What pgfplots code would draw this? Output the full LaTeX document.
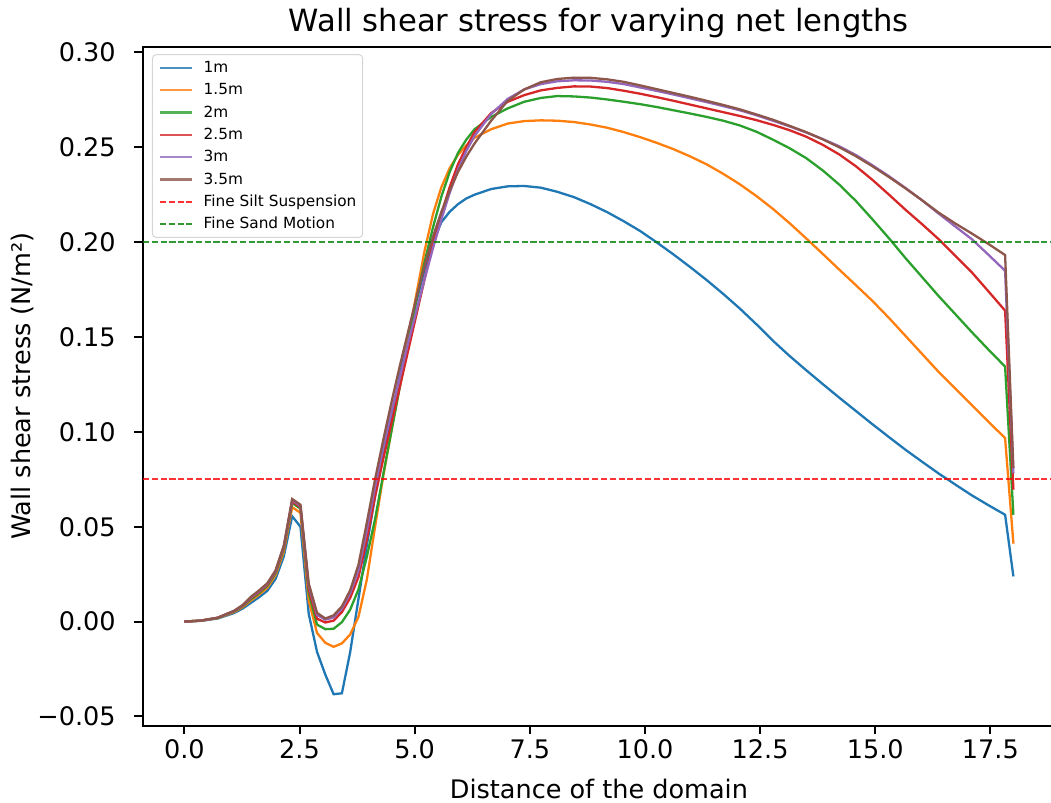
\documentclass[border=0pt]{standalone}
\usepackage{fontspec}
\setmainfont{DejaVu Sans}
\usepackage{pgfplots}
\usepackage{pgfplotstable}
\pgfplotsset{compat=1.18}
\definecolor{c0}{HTML}{1F77B4}
\definecolor{c1}{HTML}{FF7F0E}
\definecolor{c2}{HTML}{2CA02C}
\definecolor{c3}{HTML}{D62728}
\definecolor{c4}{HTML}{9467BD}
\definecolor{c5}{HTML}{8C564B}
\definecolor{hred}{HTML}{FF0000}
\definecolor{hgreen}{HTML}{008000}

\pgfplotstableread{
x      a        b        c        d        e        f
0.00   0.0000   0.0000   0.0000   0.0000   0.0000   0.0000
0.36   0.0004   0.0005   0.0005   0.0005   0.0005   0.0005
0.72   0.0016   0.0018   0.0019   0.0020   0.0020   0.0020
1.08   0.0045   0.0050   0.0053   0.0055   0.0056   0.0057
1.26   0.0068   0.0075   0.0079   0.0082   0.0084   0.0086
1.44   0.0098   0.0110   0.0117   0.0122   0.0126   0.0130
1.62   0.0128   0.0142   0.0150   0.0156   0.0160   0.0164
1.80   0.0162   0.0178   0.0188   0.0194   0.0198   0.0202
1.98   0.0225   0.0245   0.0255   0.0262   0.0266   0.0270
2.16   0.0345   0.0370   0.0385   0.0393   0.0398   0.0402
2.34   0.0555   0.0603   0.0625   0.0633   0.0640   0.0646
2.52   0.0500   0.0573   0.0595   0.0603   0.0610   0.0616
2.70   0.0040   0.0110   0.0150   0.0170   0.0190   0.0200
2.88  -0.0160  -0.0060  -0.0016   0.0015   0.0035   0.0046
3.06  -0.0280  -0.0112  -0.0040  -0.0005   0.0010   0.0016
3.24  -0.0383  -0.0133  -0.0038   0.0005   0.0022   0.0033
3.42  -0.0378  -0.0115  -0.0003   0.0050   0.0068   0.0080
3.60  -0.0160  -0.0068   0.0063   0.0125   0.0150   0.0165
3.78   0.0120   0.0025   0.0170   0.0235   0.0270   0.0300
3.96   0.0400   0.0220   0.0340   0.0430   0.0480   0.0520
4.14   0.0660   0.0500   0.0540   0.0660   0.0710   0.0750
4.32   0.0880   0.0770   0.0780   0.0860   0.0920   0.0960
4.50   0.1090   0.1010   0.1010   0.1050   0.1110   0.1160
4.68   0.1300   0.1250   0.1240   0.1240   0.1290   0.1350
4.86   0.1500   0.1490   0.1470   0.1430   0.1470   0.1530
5.04   0.1690   0.1730   0.1700   0.1620   0.1640   0.1710
5.22   0.1860   0.1960   0.1900   0.1810   0.1810   0.1880
5.40   0.2000   0.2150   0.2080   0.1990   0.1970   0.2030
5.58   0.2105   0.2290   0.2240   0.2150   0.2120   0.2160
5.76   0.2160   0.2390   0.2370   0.2290   0.2260   0.2270
5.94   0.2200   0.2460   0.2470   0.2410   0.2380   0.2370
6.12   0.2230   0.2510   0.2540   0.2500   0.2480   0.2450
6.30   0.2250   0.2550   0.2595   0.2580   0.2560   0.2520
6.66   0.2280   0.2595   0.2660   0.2680   0.2675   0.2640
7.02   0.2294   0.2625   0.2705   0.2740   0.2755   0.2745
7.38   0.2296   0.2638   0.2740   0.2775   0.2805   0.2805
7.74   0.2287   0.2642   0.2760   0.2800   0.2833   0.2843
8.10   0.2265   0.2640   0.2770   0.2813   0.2848   0.2860
8.46   0.2237   0.2633   0.2768   0.2821   0.2853   0.2867
8.82   0.2200   0.2620   0.2762   0.2820   0.2852   0.2866
9.18   0.2158   0.2603   0.2752   0.2812   0.2845   0.2858
9.54   0.2110   0.2580   0.2740   0.2798   0.2833   0.2845
9.90   0.2058   0.2553   0.2727   0.2782   0.2815   0.2826
10.26  0.1998   0.2523   0.2712   0.2764   0.2797   0.2806
10.62  0.1935   0.2490   0.2695   0.2745   0.2778   0.2786
10.98  0.1869   0.2452   0.2678   0.2725   0.2758   0.2766
11.34  0.1800   0.2410   0.2660   0.2705   0.2738   0.2745
11.70  0.1727   0.2360   0.2640   0.2685   0.2717   0.2723
12.06  0.1650   0.2305   0.2615   0.2665   0.2695   0.2700
12.42  0.1567   0.2243   0.2582   0.2643   0.2669   0.2673
12.78  0.1480   0.2175   0.2540   0.2618   0.2640   0.2645
13.14  0.1400   0.2100   0.2495   0.2590   0.2610   0.2613
13.50  0.1325   0.2020   0.2443   0.2556   0.2578   0.2580
13.86  0.1252   0.1938   0.2378   0.2513   0.2543   0.2542
14.22  0.1180   0.1855   0.2303   0.2462   0.2505   0.2500
14.58  0.1110   0.1773   0.2217   0.2400   0.2459   0.2453
14.94  0.1040   0.1690   0.2120   0.2328   0.2405   0.2400
15.30  0.0972   0.1600   0.2020   0.2250   0.2347   0.2343
15.66  0.0905   0.1505   0.1915   0.2170   0.2285   0.2283
16.02  0.0842   0.1410   0.1815   0.2094   0.2220   0.2220
16.38  0.0780   0.1315   0.1715   0.2015   0.2150   0.2155
16.74  0.0722   0.1228   0.1620   0.1928   0.2082   0.2098
17.10  0.0665   0.1140   0.1525   0.1840   0.2015   0.2045
17.46  0.0613   0.1053   0.1433   0.1740   0.1933   0.1990
17.82  0.0563   0.0967   0.1344   0.1639   0.1849   0.1932
18.00  0.0238   0.0411   0.0563   0.0695   0.0782   0.0809
}\datatable

\begin{document}
\begin{tikzpicture}
\begin{axis}[
  at={(0,0)}, anchor=south west,
  scale only axis, width=357.2pt, height=265.9pt,
  xmin=-0.9, xmax=18.9, ymin=-0.0548, ymax=0.3030,
  axis line style={line width=0.8pt},
  every tick/.style={black, line width=0.8pt},
  major tick length=3.5pt, tick align=outside,
  xtick pos=lower, ytick pos=left,
  xtick={0,2.5,5,7.5,10,12.5,15,17.5},
  xticklabels={0.0,2.5,5.0,7.5,10.0,12.5,15.0,17.5},
  ytick={-0.05,0,0.05,0.1,0.15,0.2,0.25,0.3},
  yticklabels={−0.05,0.00,0.05,0.10,0.15,0.20,0.25,0.30},
  tick label style={font=\fontsize{10}{12}\selectfont, inner sep=0pt},
  xticklabel style={anchor=north},
  yticklabel style={anchor=east},
  xticklabel shift=1.8pt, yticklabel shift=7pt,
  title={Wall shear stress for varying net lengths},
  title style={at={(axis description cs:0.5,1.0)}, anchor=base, inner sep=0pt, font=\fontsize{12}{14}\selectfont},
  xlabel={Distance of the domain},
  xlabel style={at={(axis description cs:0.5,-0.1076)}, anchor=base, inner sep=0pt, font=\fontsize{10}{12}\selectfont},
  ylabel={Wall shear stress (N/m²)},
  ylabel style={at={(axis description cs:-0.1234,0.5)}, anchor=base, rotate=0, inner sep=0pt, font=\fontsize{10}{12}\selectfont},
  legend cell align=left,
  legend image code/.code={\draw[#1] (0pt,0pt) -- (12.5pt,0pt);},
  legend style={at={(axis description cs:0,1)}, anchor=north west, xshift=3.5pt, yshift=-2.9pt,
    draw=black!20, fill=white, fill opacity=0.8, draw opacity=0.8, text opacity=1,
    rounded corners=1.5pt, font=\fontsize{6}{7}\selectfont,
    inner xsep=2.5pt, inner ysep=0.85pt, row sep=0pt,
    nodes={inner sep=0pt, text height=6.2pt, text depth=2.54pt},
    /tikz/every odd column/.append style={column sep=4.2pt}},
]
\addplot[c0, line width=0.9pt] table[x=x, y=a] {\datatable};
\addlegendentry{1m}
\addplot[c1, line width=0.9pt] table[x=x, y=b] {\datatable};
\addlegendentry{1.5m}
\addplot[c2, line width=0.9pt] table[x=x, y=c] {\datatable};
\addlegendentry{2m}
\addplot[c3, line width=0.9pt] table[x=x, y=d] {\datatable};
\addlegendentry{2.5m}
\addplot[c4, line width=0.9pt] table[x=x, y=e] {\datatable};
\addlegendentry{3m}
\addplot[c5, line width=0.9pt] table[x=x, y=f] {\datatable};
\addlegendentry{3.5m}
\addplot[hred, opacity=0.8, line width=0.65pt, dash pattern=on 2.4pt off 1.05pt] coordinates {(-0.9,0.075) (18.9,0.075)};
\addlegendentry{Fine Silt Suspension}
\addplot[hgreen, opacity=0.8, line width=0.65pt, dash pattern=on 2.4pt off 1.05pt] coordinates {(-0.9,0.2) (18.9,0.2)};
\addlegendentry{Fine Sand Motion}
\end{axis}
\pgfresetboundingbox
\useasboundingbox (-56.0pt,-29.97pt) rectangle (355.7pt,284.2pt);
\end{tikzpicture}
\end{document}
